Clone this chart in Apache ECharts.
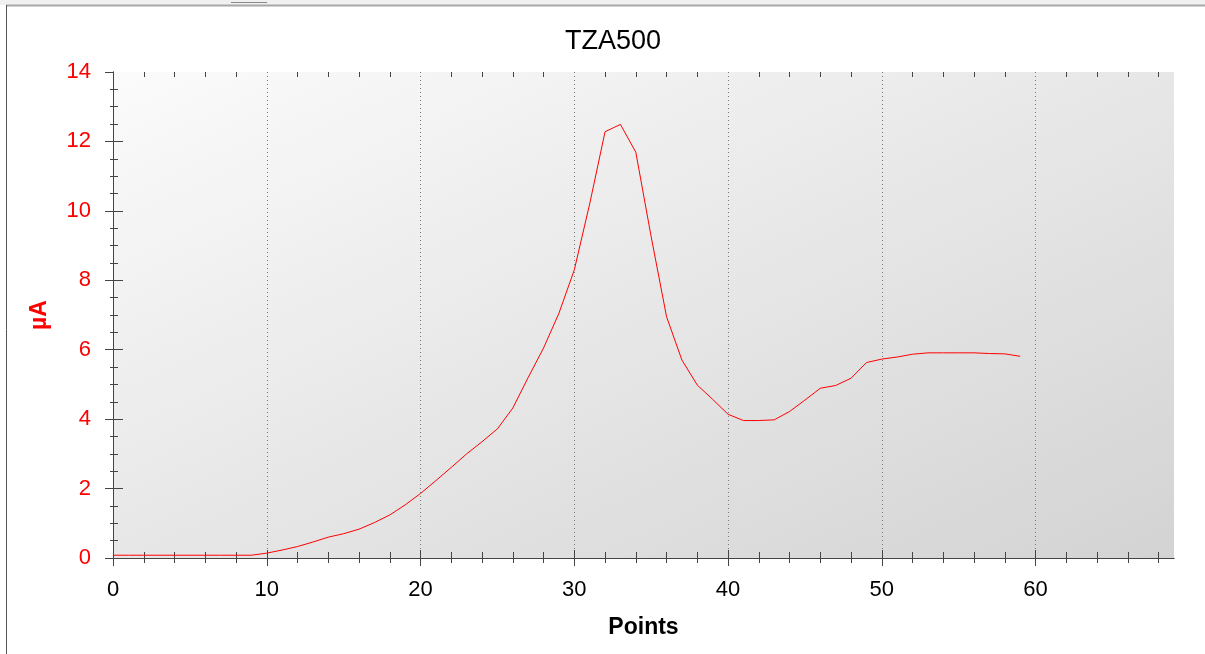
<!DOCTYPE html>
<html>
<head>
<meta charset="utf-8">
<script src="https://cdn.jsdelivr.net/npm/echarts@6/dist/echarts.min.js"></script>
<style>
html,body{margin:0;padding:0;background:#fff;}
#c{width:1205px;height:654px;}
</style>
</head>
<body>
<div id="c"></div>
<script>
const titleText = "TZA500";
const xName = "Points";
const yName = "µA";
const points = [0,1,2,3,4,5,6,7,8,9,10,11,12,13,14,15,16,17,18,19,20,21,22,23,24,25,26,27,28,29,30,31,32,33,34,35,36,37,38,39,40,41,42,43,44,45,46,47,48,49,50,51,52,53,54,55,56,57,58,59];
const current = [0.08,0.08,0.08,0.08,0.08,0.08,0.08,0.08,0.08,0.08,
  0.14,0.23,0.33,0.46,0.60,0.70,0.83,1.02,1.24,1.53,
  1.86,2.23,2.61,3.00,3.35,3.72,4.32,5.20,6.05,7.05,
  8.30,10.2,12.28,12.49,11.69,9.25,6.95,5.70,4.98,4.57,
  4.14,3.96,3.96,3.98,4.22,4.55,4.89,4.97,5.18,5.63,
  5.73,5.79,5.87,5.91,5.91,5.91,5.91,5.89,5.88,5.81];
const xMajorTicks = [0,10,20,30,40,50,60];
const xMinorTicks = [2,4,6,8,12,14,16,18,22,24,26,28,32,34,36,38,42,44,46,48,52,54,56,58,62,64,66,68];
const yMajorTicks = [0,2,4,6,8,10,12,14];
const yMinorTicks = [0.5,1,1.5,2.5,3,3.5,4.5,5,5.5,6.5,7,7.5,8.5,9,9.5,10.5,11,11.5,12.5,13,13.5];

const X_MIN = 0, X_MAX = 69, Y_MIN = 0, Y_MAX = 14;
const axisColor = '#444';
const font = 'Liberation Sans, Arial, sans-serif';

// plot area geometry (pixels)
const G_LEFT = 113, G_RIGHT = 31, G_TOP = 72, G_BOTTOM = 96;
const W = 1205 - G_LEFT - G_RIGHT, H = 654 - G_TOP - G_BOTTOM;
const k = 2 * W * H / (W * W + H * H);

function xAx(opts) {
  return Object.assign({
    type: 'value', min: X_MIN, max: X_MAX, interval: 10, position: 'bottom', gridIndex: 0,
    axisLine: {show: false, lineStyle: {color: axisColor}},
    axisTick: {show: false},
    axisLabel: {show: false},
    splitLine: {show: false}
  }, opts);
}
function yAx(opts) {
  return Object.assign({
    type: 'value', min: Y_MIN, max: Y_MAX, interval: 2, position: 'left', gridIndex: 0,
    axisLine: {show: false, lineStyle: {color: axisColor}},
    axisTick: {show: false},
    axisLabel: {show: false},
    splitLine: {show: false}
  }, opts);
}

const chart = echarts.init(document.getElementById('c'));
chart.setOption({
  animation: false,
  backgroundColor: '#fff',
  title: {
    text: titleText, left: 608, top: 23, textAlign: 'center',
    textStyle: {fontFamily: font, fontSize: 27, fontWeight: 'normal', color: '#000'}
  },
  grid: {
    left: G_LEFT, right: G_RIGHT, top: G_TOP, bottom: G_BOTTOM, show: true,
    borderWidth: 0,
    backgroundColor: {
      type: 'linear', global: true,
      x: G_LEFT, y: G_TOP, x2: G_LEFT + H * k, y2: G_TOP + W * k,
      colorStops: [{offset: 0, color: '#fbfbfb'}, {offset: 1, color: '#d3d3d3'}]
    }
  },
  xAxis: [
    xAx({
      axisLine: {show: true, lineStyle: {color: axisColor, width: 1}},
      axisTick: {show: true, inside: false, length: 8, customValues: xMajorTicks, lineStyle: {color: axisColor}},
      axisLabel: {show: true, customValues: xMajorTicks, margin: 21, color: '#000', fontSize: 22, fontFamily: font},
      splitLine: {show: true, lineStyle: {color: '#777', type: [1, 3], width: 1}},
      name: xName, nameLocation: 'middle', nameGap: 58,
      nameTextStyle: {fontFamily: font, fontSize: 23, fontWeight: 'bold', color: '#000'}
    }),
    xAx({axisTick: {show: true, inside: true, length: 8, customValues: xMajorTicks, lineStyle: {color: axisColor}}}),
    xAx({axisTick: {show: true, inside: true, length: 6, customValues: xMinorTicks, lineStyle: {color: axisColor}}}),
    xAx({axisTick: {show: true, inside: false, length: 5, customValues: xMinorTicks, lineStyle: {color: axisColor}}}),
    xAx({position: 'top',
      axisLine: {show: true, lineStyle: {color: axisColor, width: 1}},
      axisTick: {show: true, inside: true, length: 8, customValues: xMajorTicks, lineStyle: {color: axisColor}}}),
    xAx({position: 'top',
      axisTick: {show: true, inside: true, length: 5, customValues: xMinorTicks, lineStyle: {color: axisColor}}})
  ],
  yAxis: [
    yAx({
      axisLine: {show: true, lineStyle: {color: axisColor, width: 1}},
      axisTick: {show: true, inside: false, length: 8, customValues: yMajorTicks, lineStyle: {color: axisColor}},
      axisLabel: {show: true, customValues: yMajorTicks, margin: 22, color: '#ff0000', fontSize: 22, fontFamily: font},
      name: yName, nameLocation: 'middle', nameGap: 62, nameRotate: 90,
      nameTextStyle: {fontFamily: font, fontSize: 23, fontWeight: 'bold', color: '#ff0000'}
    }),
    yAx({axisTick: {show: true, inside: true, length: 10, customValues: [0,2,4,6,8,10,12], lineStyle: {color: axisColor}}}),
    yAx({axisTick: {show: true, inside: true, length: 5, customValues: yMinorTicks, lineStyle: {color: axisColor}}}),
    yAx({axisTick: {show: true, inside: false, length: 3, customValues: yMinorTicks, lineStyle: {color: axisColor}}}),
    yAx({position: 'right', axisLine: {show: true, lineStyle: {color: axisColor, width: 1}}})
  ],
  graphic: [
    {type: 'rect', shape: {x: 0, y: 0, width: 1205, height: 5}, style: {fill: '#f0f0f0'}, silent: true},
    {type: 'line', shape: {x1: 6, y1: 5.5, x2: 1205, y2: 5.5}, style: {stroke: '#a8a8a8', lineWidth: 2}, silent: true},
    {type: 'line', shape: {x1: 6.5, y1: 5, x2: 6.5, y2: 654}, style: {stroke: '#555', lineWidth: 1}, silent: true},
    {type: 'line', shape: {x1: 231, y1: 2.5, x2: 267, y2: 2.5}, style: {stroke: '#888', lineWidth: 1}, silent: true}
  ],
  series: [{
    type: 'line',
    xAxisIndex: 0, yAxisIndex: 0,
    data: points.map((p, i) => [p, current[i]]),
    showSymbol: false, symbol: 'none',
    lineStyle: {color: '#ff0000', width: 1},
    itemStyle: {color: '#ff0000'},
    z: 10
  }]
});
</script>
</body>
</html>
